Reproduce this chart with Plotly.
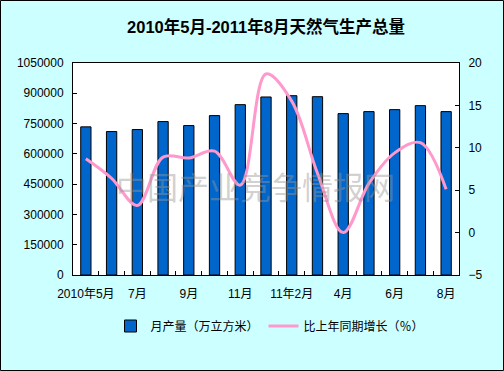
import plotly.graph_objects as go

months = ["2010年5月", "2010年6月", "2010年7月", "2010年8月", "2010年9月", "2010年10月",
          "2010年11月", "2010年12月", "2011年2月", "2011年3月", "2011年4月", "2011年5月",
          "2011年6月", "2011年7月", "2011年8月"]
tick_labels = ["2010年5月", "", "7月", "", "9月", "", "11月", "", "11年2月", "", "4月", "",
               "6月", "", "8月"]
output = [733700, 710500, 720400, 759800, 740100, 789400, 843700, 881700,
          888100, 883200, 799300, 809200, 819000, 838800, 809200]
growth = [8.7, 6.4, 3.2, 8.9, 8.8, 9.6, 5.6, 18.7, 15.5, 7.0, 0.0, 5.8, 9.4, 10.6, 5.1]

x = list(range(len(months)))
tv = [i for i, t in enumerate(tick_labels) if t]
tt = [t for t in tick_labels if t]

FONT = "Liberation Sans, Noto Sans CJK SC, sans-serif"

fig = go.Figure()
fig.add_trace(go.Bar(
    x=x, y=output, name="月产量（万立方米）",
    marker=dict(color="#0066CC", line=dict(color="black", width=1)),
    customdata=months, hovertemplate="%{customdata}: %{y}<extra></extra>",
))
fig.add_trace(go.Scatter(
    x=x, y=growth, name="比上年同期增长（％）", yaxis="y2", mode="lines",
    line=dict(color="#FF99CC", width=3, shape="spline", smoothing=1.0),
    customdata=months, hovertemplate="%{customdata}: %{y}%<extra></extra>",
))

W, H = 504, 371
L, R, T, B = 73, 459, 63, 275
pw, ph = R - L, B - T

fig.update_layout(
    width=W, height=H,
    margin=dict(l=L, r=W - R, t=T, b=H - B, autoexpand=False),
    paper_bgcolor="#CCFFFF", plot_bgcolor="white",
    font=dict(family=FONT, size=12, color="black"),
    bargap=0.6,
    showlegend=True,
    title=dict(text="<b>2010年5月-2011年8月天然气生产总量</b>", x=0.5, xref="paper",
               xanchor="center", y=1 - 27 / H, yanchor="middle",
               font=dict(size=16.5, family="Liberation Sans, Noto Sans CJK SC, sans-serif")),
    legend=dict(orientation="h", x=(270 - L) / pw, xanchor="center",
                y=(B - 326) / ph, yanchor="middle", bgcolor="rgba(0,0,0,0)",
                font=dict(size=12), itemwidth=30),
    xaxis=dict(range=[-0.5, len(months) - 0.5], tickmode="array", tickvals=tv, ticktext=tt,
               ticks="", showline=True, linecolor="black", linewidth=1, mirror=True,
               showgrid=False, zeroline=False, tickfont=dict(size=12),
               ticklabelstandoff=8, automargin=False,
               minor=dict(tickmode="array", tickvals=[i + 0.5 for i in x[:-1]],
                          ticks="inside", ticklen=4, tickcolor="black", showgrid=False)),
    yaxis=dict(range=[0, 1050000], dtick=150000, tick0=0, ticks="inside", ticklen=4,
               tickcolor="black", showline=True, linecolor="black", linewidth=1,
               showgrid=False, zeroline=False, tickformat="d", tickfont=dict(size=12),
               ticklabelstandoff=6, automargin=False),
    yaxis2=dict(range=[-5, 20], dtick=5, tick0=-5, overlaying="y", side="right",
                ticks="inside", ticklen=4, tickcolor="black", showline=True,
                linecolor="black", linewidth=1, showgrid=False, zeroline=False,
                tickfont=dict(size=12), ticklabelstandoff=6, automargin=False),
)

# watermark
fig.add_annotation(text="中国产业竞争情报网", xref="paper", yref="paper",
                   x=(255 - L) / pw, y=(B - 185) / ph, showarrow=False,
                   font=dict(size=31, color="rgba(150,150,150,0.45)",
                             family="Noto Sans CJK SC"))

# outer border
fig.add_shape(type="rect", xref="paper", yref="paper",
              x0=(0.5 - L) / pw, x1=(W - 0.5 - L) / pw,
              y0=(B - (H - 0.5)) / ph, y1=(B - 0.5) / ph,
              line=dict(color="black", width=1), layer="below")

fig.write_html("out.html", config={"displayModeBar": False},
               post_script="document.body.style.margin='0';document.body.style.overflow='hidden';")
